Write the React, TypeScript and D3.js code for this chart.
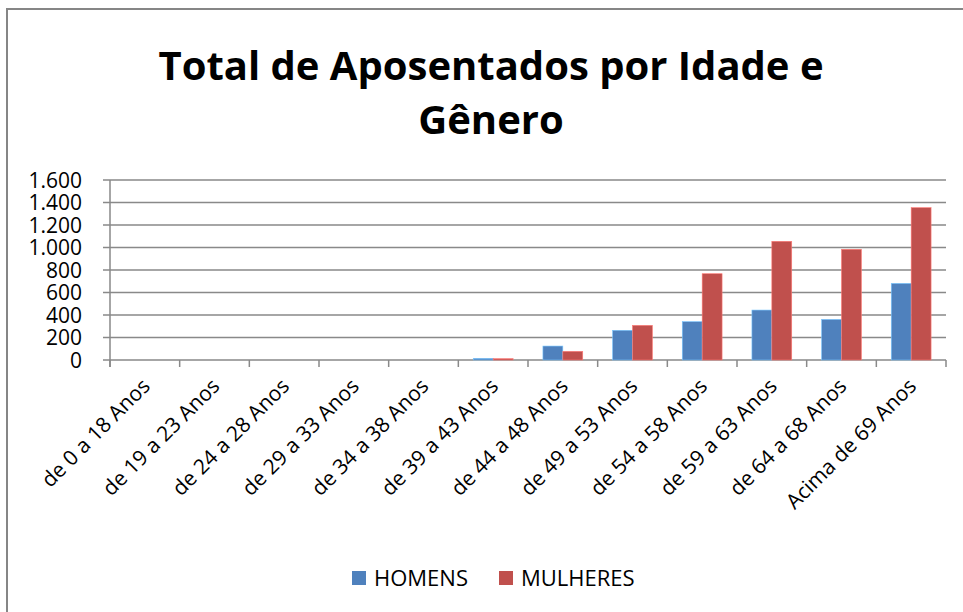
import React, { useEffect, useRef } from 'react';
import * as d3 from 'd3';

const categorias = [
  'de 0 a 18 Anos', 'de 19 a 23 Anos', 'de 24 a 28 Anos', 'de 29 a 33 Anos',
  'de 34 a 38 Anos', 'de 39 a 43 Anos', 'de 44 a 48 Anos', 'de 49 a 53 Anos',
  'de 54 a 58 Anos', 'de 59 a 63 Anos', 'de 64 a 68 Anos', 'Acima de 69 Anos',
];
const homens = [0, 0, 0, 0, 0, 15, 124, 264, 341, 444, 361, 681];
const mulheres = [0, 0, 0, 0, 0, 12, 77, 308, 767, 1055, 984, 1354];
const yTicks = [0, 200, 400, 600, 800, 1000, 1200, 1400, 1600];
const series = [
  { nome: 'HOMENS', valores: homens, cor: '#4F81BD' },
  { nome: 'MULHERES', valores: mulheres, cor: '#C0504D' },
];

const W = 963, H = 612;
const margin = { left: 110, right: 17, top: 180, bottom: 252 };
const font = '"Open Sans", sans-serif';

export default function App() {
  const svgRef = useRef<SVGSVGElement>(null);

  useEffect(() => {
    document.body.style.margin = '0';
    const svg = d3.select(svgRef.current);
    svg.selectAll('*').remove();

    const iw = W - margin.left - margin.right;
    const ih = H - margin.top - margin.bottom;

    const x = d3.scaleBand().domain(categorias).range([0, iw]).paddingInner(0.4286).paddingOuter(0.2143);
    const x1 = d3.scaleBand().domain(series.map(s => s.nome)).range([0, x.bandwidth()]);
    const y = d3.scaleLinear().domain([0, 1600]).range([ih, 0]);
    const step = iw / categorias.length;

    svg.append('rect')
      .attr('x', 7).attr('y', 9).attr('width', 1000).attr('height', 700)
      .attr('fill', 'white').attr('stroke', '#868686').attr('stroke-width', 2);

    // titulo
    const title = svg.append('text')
      .attr('x', 491).attr('y', 80)
      .attr('text-anchor', 'middle')
      .style('font-family', font).style('font-weight', 'bold').style('font-size', '40px')
      .attr('fill', '#000');
    title.append('tspan').attr('x', 491).text('Total de Aposentados por Idade e');
    title.append('tspan').attr('x', 491).attr('dy', 54).text('Gênero');

    const g = svg.append('g').attr('transform', `translate(${margin.left},${margin.top})`);

    // grade
    g.selectAll('.grid').data(yTicks).join('line')
      .attr('x1', -7).attr('x2', iw)
      .attr('y1', d => y(d)).attr('y2', d => y(d))
      .attr('stroke', '#898989').attr('stroke-width', 1.5);

    g.selectAll('.ylab').data(yTicks).join('text')
      .attr('x', -28).attr('y', d => y(d)).attr('dy', '0.36em')
      .attr('text-anchor', 'end')
      .style('font-family', font).style('font-size', '21px')
      .text(d => d3.format(',')(d).replace(/,/g, '.'));

    // eixo y
    g.append('line').attr('x1', 0).attr('x2', 0).attr('y1', 0).attr('y2', ih + 7)
      .attr('stroke', '#898989').attr('stroke-width', 1.5);

    // ticks eixo x
    g.selectAll('.xtick').data(d3.range(categorias.length + 1)).join('line')
      .attr('x1', d => d * step).attr('x2', d => d * step)
      .attr('y1', ih).attr('y2', ih + 7)
      .attr('stroke', '#898989').attr('stroke-width', 1.5);

    // barras
    series.forEach(s => {
      g.selectAll(`.bar-${s.nome}`).data(s.valores).join('rect')
        .attr('x', (d, i) => (x(categorias[i]) as number) + (x1(s.nome) as number))
        .attr('y', d => y(d))
        .attr('width', x1.bandwidth())
        .attr('height', d => ih - y(d))
        .attr('fill', s.cor)
        .attr('stroke', d3.color(s.cor)!.brighter(1.2).toString())
        .attr('stroke-width', 0.6);
    });

    // rotulos eixo x
    g.selectAll('.xlab').data(categorias).join('text')
      .attr('transform', d => `translate(${(x(d) as number) + x.bandwidth() / 2 - 4},${ih + 17}) rotate(-45)`)
      .attr('text-anchor', 'end')
      .attr('dy', '0.7em')
      .style('font-family', font).style('font-size', '21px')
      .text(d => d);

    // legenda
    const legX = [352, 499];
    series.forEach((s, i) => {
      svg.append('rect').attr('x', legX[i]).attr('y', 571).attr('width', 14).attr('height', 14).attr('fill', s.cor);
      svg.append('text').attr('x', legX[i] + 22).attr('y', 586)
        .style('font-family', font).style('font-size', '22px')
        .text(s.nome);
    });
  }, []);

  return <svg ref={svgRef} width={W} height={H} style={{ display: 'block' }} />;
}
